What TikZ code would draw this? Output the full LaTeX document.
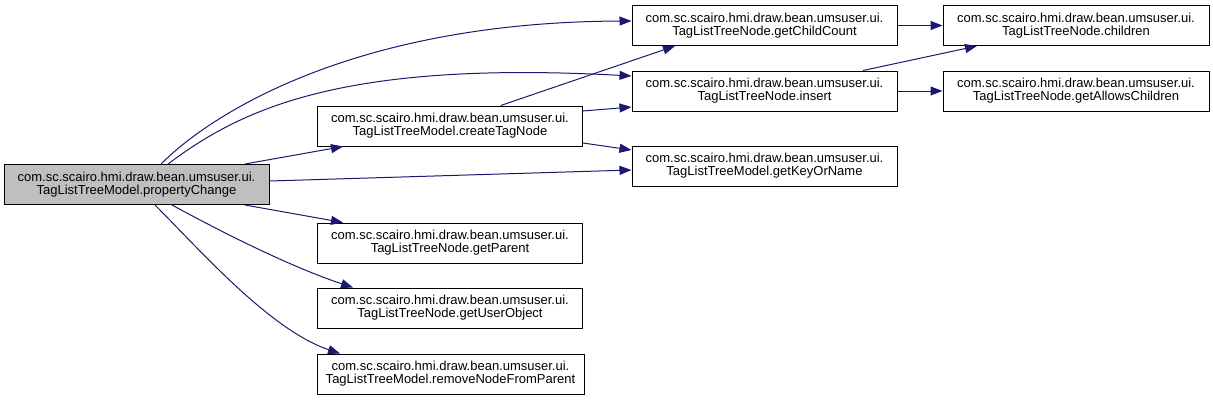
\documentclass[tikz,border=0pt]{standalone}
\usepackage{fontspec}
\setmainfont{Liberation Sans}
\usetikzlibrary{arrows.meta}
\definecolor{edgeblue}{HTML}{191970}
\definecolor{mainfill}{HTML}{BFBFBF}
\tikzset{
  fnbox/.style={draw=black, line width=1pt, fill=white, minimum width=265pt, minimum height=40pt,
    inner sep=0pt, align=center, font=\fontsize{13pt}{13pt}\selectfont},
  mainbox/.style={fnbox, fill=mainfill},
  call/.style={draw=edgeblue, line width=1pt, -{Triangle[length=12pt,width=9pt]}, fill=none}
}
\begin{document}
\begin{tikzpicture}[x=1pt,y=-1pt]
\useasboundingbox (0,0) rectangle (1213,400);
% nodes
\node[mainbox] (main) at (136.5,184.5) {com.sc.scairo.hmi.draw.bean.umsuser.ui.\\TagListTreeModel.propertyChange};
\node[fnbox] (ctn) at (450,126) {com.sc.scairo.hmi.draw.bean.umsuser.ui.\\TagListTreeModel.createTagNode};
\node[fnbox] (gpa) at (450,243) {com.sc.scairo.hmi.draw.bean.umsuser.ui.\\TagListTreeNode.getParent};
\node[fnbox] (guo) at (450,308) {com.sc.scairo.hmi.draw.bean.umsuser.ui.\\TagListTreeNode.getUserObject};
\node[fnbox, minimum width=267pt] (rnf) at (450.5,374) {com.sc.scairo.hmi.draw.bean.umsuser.ui.\\TagListTreeModel.removeNodeFromParent};
\node[fnbox] (gcc) at (764.5,25.5) {com.sc.scairo.hmi.draw.bean.umsuser.ui.\\TagListTreeNode.getChildCount};
\node[fnbox] (ins) at (764.5,91) {com.sc.scairo.hmi.draw.bean.umsuser.ui.\\TagListTreeNode.insert};
\node[fnbox] (gkn) at (764.5,166) {com.sc.scairo.hmi.draw.bean.umsuser.ui.\\TagListTreeModel.getKeyOrName};
\node[fnbox, minimum width=266pt] (chi) at (1076,25.5) {com.sc.scairo.hmi.draw.bean.umsuser.ui.\\TagListTreeNode.children};
\node[fnbox, minimum width=266pt] (gac) at (1076,91) {com.sc.scairo.hmi.draw.bean.umsuser.ui.\\TagListTreeNode.getAllowsChildren};
% edges from propertyChange
\draw[call] ([xshift=24.5pt]main.north) .. controls (215,110) and (360,22) .. ([yshift=4.5pt]gcc.west);
\draw[call] ([xshift=31.5pt]main.north) .. controls (240,110) and (340,60) .. ([yshift=15pt]ins.west);
\draw[call] ([xshift=108.5pt]main.north) -- ([xshift=-107pt]ctn.south);
\draw[call] ([yshift=3.5pt]main.east) -- ([yshift=-4pt]gkn.west);
\draw[call] ([xshift=108.5pt]main.south) -- ([xshift=-107pt]gpa.north);
\draw[call] ([xshift=35.5pt]main.south) .. controls (240,242) and (300,270) .. ([xshift=-97pt]guo.north);
\draw[call] ([xshift=18.5pt]main.south) .. controls (200,250) and (270,330) .. ([xshift=-110.5pt]rnf.north);
% edges from createTagNode
\draw[call] ([xshift=50.7pt]ctn.north) -- ([xshift=-89.5pt]gcc.south);
\draw[call] ([yshift=15pt]ctn.east) -- ([yshift=-16pt]ins.west);
\draw[call] ([yshift=-17pt]ctn.east) -- ([yshift=16pt]gkn.west);
% edges from second column
\draw[call] (gcc.east) -- (chi.west);
\draw[call] ([xshift=98.5pt]ins.north) -- ([xshift=-99pt]chi.south);
\draw[call] (ins.east) -- (gac.west);
\end{tikzpicture}
\end{document}
